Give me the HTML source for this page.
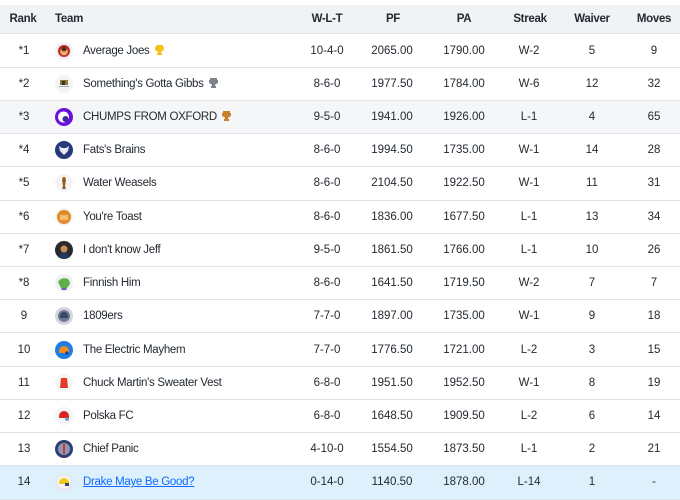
<!DOCTYPE html>
<html><head><meta charset="utf-8"><style>
*{margin:0;padding:0;box-sizing:border-box}
html,body{width:680px;height:500px;background:#fff;overflow:hidden}
body{font-family:"Liberation Sans",sans-serif;color:#232a31;font-size:11.5px;position:relative}
.hdr{position:absolute;left:0;top:5px;width:680px;height:29px;background:#f0f3f5;border-bottom:1px solid #e0e4e9;font-weight:bold;letter-spacing:-0.3px}
.row{position:absolute;left:0;width:680px;height:33.21px;border-bottom:1px solid #e0e4e9}
.c{position:absolute;width:80px;text-align:center;top:50%;transform:translateY(-50%);line-height:14px;white-space:nowrap}
.team{position:absolute;left:83px;top:50%;transform:translateY(-50%);line-height:14px;letter-spacing:-0.3px;white-space:nowrap}
.hteam{position:absolute;left:55px;top:50%;transform:translateY(-50%);line-height:14px}
.ic{position:absolute;left:55px;top:50%;margin-top:-9px;width:18px;height:18px}
.tr{display:inline-block;vertical-align:-1px;margin-left:5px}
a{color:#0f69ff;text-decoration:underline}
</style></head><body>
<div class="hdr">
<span class="c" style="left:-17px">Rank</span>
<span class="hteam">Team</span>
<span class="c" style="left:287px">W-L-T</span>
<span class="c" style="left:353px">PF</span>
<span class="c" style="left:424px">PA</span>
<span class="c" style="left:490px">Streak</span>
<span class="c" style="left:552px">Waiver</span>
<span class="c" style="left:614px">Moves</span>
</div>

<!-- row 1 -->
<div class="row" style="top:34.5px">
<span class="c" style="left:-16px">*1</span>
<svg class="ic" viewBox="0 0 18 18"><circle cx="9" cy="9" r="9" fill="#eef0f2"/><circle cx="9" cy="9" r="6" fill="#c8281e"/><circle cx="9" cy="9.5" r="3.8" fill="#e9b07a"/><circle cx="9" cy="7" r="2.5" fill="#5a2a14"/></svg>
<span class="team">Average Joes<svg class="tr" width="9" height="10" viewBox="0 0 9 10"><path d="M1 0h7v2h1v2c0 1-1 2-2 2l-1 1v1h1v2H2V8h1V7L2 6C1 6 0 5 0 4V2h1z" fill="#f5c21b"/></svg></span>
<span class="c" style="left:287px">10-4-0</span>
<span class="c" style="left:352px">2065.00</span>
<span class="c" style="left:424px">1790.00</span>
<span class="c" style="left:489px">W-2</span>
<span class="c" style="left:552px">5</span>
<span class="c" style="left:614px">9</span>
</div>

<!-- row 2 -->
<div class="row" style="top:67.7px">
<span class="c" style="left:-16px">*2</span>
<svg class="ic" viewBox="0 0 18 18"><circle cx="9" cy="9" r="9" fill="#f2f3f4"/><rect x="5" y="5" width="8" height="5" fill="#8a7a3a"/><rect x="7" y="6" width="3" height="4" fill="#3a3020"/><rect x="4" y="11" width="10" height="1" fill="#9aa"/></svg>
<span class="team">Something's Gotta Gibbs<svg class="tr" width="9" height="10" viewBox="0 0 9 10"><path d="M1 0h7v2h1v2c0 1-1 2-2 2l-1 1v1h1v2H2V8h1V7L2 6C1 6 0 5 0 4V2h1z" fill="#7d838a"/></svg></span>
<span class="c" style="left:287px">8-6-0</span>
<span class="c" style="left:352px">1977.50</span>
<span class="c" style="left:424px">1784.00</span>
<span class="c" style="left:489px">W-6</span>
<span class="c" style="left:552px">12</span>
<span class="c" style="left:614px">32</span>
</div>

<!-- row 3 -->
<div class="row" style="top:100.9px;background:#f5f6f8">
<span class="c" style="left:-16px">*3</span>
<svg class="ic" viewBox="0 0 18 18"><circle cx="9" cy="9" r="9" fill="#6a11e0"/><circle cx="8.5" cy="9" r="5.5" fill="#fff"/><circle cx="10.5" cy="11" r="3" fill="#3b2aa0"/></svg>
<span class="team">CHUMPS FROM OXFORD<svg class="tr" width="9" height="10" viewBox="0 0 9 10"><path d="M1 0h7v2h1v2c0 1-1 2-2 2l-1 1v1h1v2H2V8h1V7L2 6C1 6 0 5 0 4V2h1z" fill="#c97f2c"/></svg></span>
<span class="c" style="left:287px">9-5-0</span>
<span class="c" style="left:352px">1941.00</span>
<span class="c" style="left:424px">1926.00</span>
<span class="c" style="left:489px">L-1</span>
<span class="c" style="left:552px">4</span>
<span class="c" style="left:614px">65</span>
</div>

<!-- row 4 -->
<div class="row" style="top:134.1px">
<span class="c" style="left:-16px">*4</span>
<svg class="ic" viewBox="0 0 18 18"><circle cx="9" cy="9" r="9" fill="#263a78"/><path d="M4 5l3 2h4l3-2-1 5-4 4-4-4z" fill="#e8ecf4"/></svg>
<span class="team">Fats's Brains</span>
<span class="c" style="left:287px">8-6-0</span>
<span class="c" style="left:352px">1994.50</span>
<span class="c" style="left:424px">1735.00</span>
<span class="c" style="left:489px">W-1</span>
<span class="c" style="left:552px">14</span>
<span class="c" style="left:614px">28</span>
</div>

<!-- row 5 -->
<div class="row" style="top:167.4px">
<span class="c" style="left:-16px">*5</span>
<svg class="ic" viewBox="0 0 18 18"><circle cx="9" cy="9" r="9" fill="#f4f4f4"/><path d="M8 3h2l1 3-1 6 1 3H7l1-3-1-6z" fill="#9a5a1e"/></svg>
<span class="team">Water Weasels</span>
<span class="c" style="left:287px">8-6-0</span>
<span class="c" style="left:352px">2104.50</span>
<span class="c" style="left:424px">1922.50</span>
<span class="c" style="left:489px">W-1</span>
<span class="c" style="left:552px">11</span>
<span class="c" style="left:614px">31</span>
</div>

<!-- row 6 -->
<div class="row" style="top:200.6px">
<span class="c" style="left:-16px">*6</span>
<svg class="ic" viewBox="0 0 18 18"><circle cx="9" cy="9" r="9" fill="#f3f3f3"/><circle cx="9" cy="9" r="7" fill="#e08a2a"/><rect x="5" y="7" width="8" height="5" fill="#f4c070"/></svg>
<span class="team">You're Toast</span>
<span class="c" style="left:287px">8-6-0</span>
<span class="c" style="left:352px">1836.00</span>
<span class="c" style="left:424px">1677.50</span>
<span class="c" style="left:489px">L-1</span>
<span class="c" style="left:552px">13</span>
<span class="c" style="left:614px">34</span>
</div>

<!-- row 7 -->
<div class="row" style="top:233.8px">
<span class="c" style="left:-16px">*7</span>
<svg class="ic" viewBox="0 0 18 18"><circle cx="9" cy="9" r="9" fill="#2a2a2e"/><circle cx="9" cy="8" r="3.5" fill="#c8905a"/><path d="M4 17l2-5h6l2 5z" fill="#1c3a6a"/></svg>
<span class="team">I don't know Jeff</span>
<span class="c" style="left:287px">9-5-0</span>
<span class="c" style="left:352px">1861.50</span>
<span class="c" style="left:424px">1766.00</span>
<span class="c" style="left:489px">L-1</span>
<span class="c" style="left:552px">10</span>
<span class="c" style="left:614px">26</span>
</div>

<!-- row 8 -->
<div class="row" style="top:267px">
<span class="c" style="left:-16px">*8</span>
<svg class="ic" viewBox="0 0 18 18"><circle cx="9" cy="9" r="9" fill="#eef0f3"/><path d="M3 8c2-4 8-5 11-2l1 4-3 4H6z" fill="#5fb04a"/><path d="M6 14h6l-1 2H7z" fill="#7a5ab0"/></svg>
<span class="team">Finnish Him</span>
<span class="c" style="left:287px">8-6-0</span>
<span class="c" style="left:352px">1641.50</span>
<span class="c" style="left:424px">1719.50</span>
<span class="c" style="left:489px">W-2</span>
<span class="c" style="left:552px">7</span>
<span class="c" style="left:614px">7</span>
</div>

<!-- row 9 -->
<div class="row" style="top:300.2px">
<span class="c" style="left:-16px">9</span>
<svg class="ic" viewBox="0 0 18 18"><circle cx="9" cy="9" r="9" fill="#d4d8de"/><circle cx="9" cy="9" r="6" fill="#6d7a96"/><path d="M5 9a4 4 0 0 1 8 0v2H5z" fill="#3a4868"/></svg>
<span class="team">1809ers</span>
<span class="c" style="left:287px">7-7-0</span>
<span class="c" style="left:352px">1897.00</span>
<span class="c" style="left:424px">1735.00</span>
<span class="c" style="left:489px">W-1</span>
<span class="c" style="left:552px">9</span>
<span class="c" style="left:614px">18</span>
</div>

<!-- row 10 -->
<div class="row" style="top:333.5px">
<span class="c" style="left:-16px">10</span>
<svg class="ic" viewBox="0 0 18 18"><circle cx="9" cy="9" r="9" fill="#1f7fe0"/><path d="M4 10a5 5 0 0 1 10 0v2H4z" fill="#f08a1e"/><circle cx="12" cy="12" r="1.6" fill="#1a3a80"/></svg>
<span class="team">The Electric Mayhem</span>
<span class="c" style="left:287px">7-7-0</span>
<span class="c" style="left:352px">1776.50</span>
<span class="c" style="left:424px">1721.00</span>
<span class="c" style="left:489px">L-2</span>
<span class="c" style="left:552px">3</span>
<span class="c" style="left:614px">15</span>
</div>

<!-- row 11 -->
<div class="row" style="top:366.7px">
<span class="c" style="left:-16px">11</span>
<svg class="ic" viewBox="0 0 18 18"><circle cx="9" cy="9" r="9" fill="#f5f5f5"/><path d="M6 4h6l1 10H5z" fill="#e8392a"/></svg>
<span class="team">Chuck Martin's Sweater Vest</span>
<span class="c" style="left:287px">6-8-0</span>
<span class="c" style="left:352px">1951.50</span>
<span class="c" style="left:424px">1952.50</span>
<span class="c" style="left:489px">W-1</span>
<span class="c" style="left:552px">8</span>
<span class="c" style="left:614px">19</span>
</div>

<!-- row 12 -->
<div class="row" style="top:399.9px">
<span class="c" style="left:-16px">12</span>
<svg class="ic" viewBox="0 0 18 18"><circle cx="9" cy="9" r="9" fill="#f3f4f6"/><path d="M4 9a5 5 0 0 1 10 0v2H4z" fill="#d8251e"/><circle cx="12" cy="12" r="1.8" fill="#6a8ac8"/></svg>
<span class="team">Polska FC</span>
<span class="c" style="left:287px">6-8-0</span>
<span class="c" style="left:352px">1648.50</span>
<span class="c" style="left:424px">1909.50</span>
<span class="c" style="left:489px">L-2</span>
<span class="c" style="left:552px">6</span>
<span class="c" style="left:614px">14</span>
</div>

<!-- row 13 -->
<div class="row" style="top:433.1px">
<span class="c" style="left:-16px">13</span>
<svg class="ic" viewBox="0 0 18 18"><circle cx="9" cy="9" r="9" fill="#2e3e72"/><circle cx="9" cy="9" r="6" fill="#8a98b8"/><path d="M8 4h2v10H8z" fill="#d8342a"/></svg>
<span class="team">Chief Panic</span>
<span class="c" style="left:287px">4-10-0</span>
<span class="c" style="left:352px">1554.50</span>
<span class="c" style="left:424px">1873.50</span>
<span class="c" style="left:489px">L-1</span>
<span class="c" style="left:552px">2</span>
<span class="c" style="left:614px">21</span>
</div>

<!-- row 14 -->
<div class="row" style="top:466.3px;background:#ddf0fc">
<span class="c" style="left:-16px">14</span>
<svg class="ic" viewBox="0 0 18 18"><circle cx="9" cy="9" r="9" fill="#e6e8ec"/><circle cx="9" cy="9" r="6.5" fill="#f4f5f7"/><path d="M4 10a5 5 0 0 1 10 0v1H4z" fill="#f2c41e"/><path d="M10 10h4v3h-4z" fill="#3a4670"/></svg>
<span class="team"><a>Drake Maye Be Good?</a></span>
<span class="c" style="left:287px">0-14-0</span>
<span class="c" style="left:352px">1140.50</span>
<span class="c" style="left:424px">1878.00</span>
<span class="c" style="left:489px">L-14</span>
<span class="c" style="left:552px">1</span>
<span class="c" style="left:614px">-</span>
</div>
</body></html>
